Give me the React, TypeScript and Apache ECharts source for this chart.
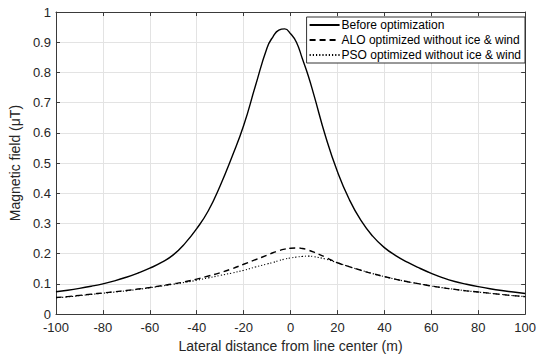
import React, { useEffect, useRef } from "react";
import * as echarts from "echarts";

const distance = [
  -100, -95, -90, -85, -80, -75, -70, -65, -60, -55, -50, -45, -40, -35, -30, -25, -20, -15, -10,
  -7.5, -5, -2.5, 0, 2.5, 5, 7.5,
  10, 15, 20, 25, 30, 35, 40, 45, 50, 55, 60, 65, 70, 75, 80, 85, 90, 95, 100,
];

const beforeOpt = [
  0.074, 0.079, 0.085, 0.092, 0.1, 0.11, 0.122, 0.136, 0.152, 0.171, 0.196, 0.234, 0.283, 0.343, 0.425, 0.52, 0.624, 0.755, 0.882,
  0.918, 0.94, 0.944, 0.928, 0.9, 0.846, 0.79,
  0.724, 0.586, 0.471, 0.38, 0.31, 0.258, 0.22, 0.193, 0.171, 0.152, 0.135, 0.12, 0.108, 0.099, 0.091, 0.084, 0.078, 0.073, 0.068,
];

const aloOpt = [
  0.055, 0.058, 0.062, 0.066, 0.07, 0.074, 0.078, 0.083, 0.088, 0.094, 0.1, 0.107, 0.116, 0.126, 0.137, 0.15, 0.165, 0.18, 0.195,
  0.203, 0.21, 0.215, 0.218, 0.219, 0.217, 0.212,
  0.205, 0.188, 0.17, 0.157, 0.145, 0.134, 0.124, 0.115, 0.107, 0.1, 0.093, 0.087, 0.082, 0.077, 0.073, 0.069, 0.065, 0.061, 0.058,
];

const psoOpt = [
  0.054, 0.057, 0.061, 0.065, 0.069, 0.073, 0.077, 0.082, 0.087, 0.093, 0.099, 0.105, 0.112, 0.12, 0.128, 0.136, 0.145, 0.156, 0.166,
  0.171, 0.177, 0.182, 0.186, 0.189, 0.191, 0.192,
  0.19, 0.182, 0.17, 0.157, 0.145, 0.134, 0.124, 0.115, 0.107, 0.1, 0.093, 0.087, 0.082, 0.077, 0.073, 0.069, 0.065, 0.061, 0.058,
];

const seriesNames = [
  "Before optimization",
  "ALO optimized without ice & wind",
  "PSO optimized without ice & wind",
];

const FONT = "'Liberation Sans', Arial, sans-serif";
const AXIS_COLOR = "#3a3a3a";
const TEXT_COLOR = "#262626";

export default function App() {
  const ref = useRef<HTMLDivElement>(null);

  useEffect(() => {
    if (!ref.current) return;
    const chart = echarts.init(ref.current, undefined, { renderer: "svg" });
    const pairs = (ys: number[]) => distance.map((x, i) => [x, ys[i]]);
    const tick = { show: true, inside: true, length: 4, lineStyle: { color: AXIS_COLOR } };
    const line = { show: true, onZero: false, lineStyle: { color: AXIS_COLOR, width: 1 } };
    chart.setOption({
      animation: false,
      backgroundColor: "#ffffff",
      textStyle: { fontFamily: FONT },
      grid: { left: 51, right: 12, top: 12, bottom: 43, containLabel: false },
      legend: {
        orient: "vertical",
        right: 14,
        top: 17,
        data: seriesNames,
        backgroundColor: "#ffffff",
        borderColor: "#333333",
        borderWidth: 1,
        borderRadius: 0,
        padding: [2, 4, 2, 2],
        itemGap: 3,
        itemWidth: 30,
        itemHeight: 12,
        itemStyle: { opacity: 0 },
        textStyle: { fontSize: 12, color: "#000000", fontFamily: FONT, padding: [0, 0, 0, -3] },
      },
      xAxis: [
        {
          type: "value",
          min: -100,
          max: 100,
          interval: 20,
          position: "bottom",
          name: "Lateral distance from line center (m)",
          nameLocation: "middle",
          nameGap: 24,
          nameTextStyle: { fontSize: 14, color: TEXT_COLOR, fontFamily: FONT },
          axisLine: line,
          axisTick: tick,
          axisLabel: { fontSize: 13, lineHeight: 13, color: TEXT_COLOR, margin: 7, fontFamily: FONT },
          splitLine: { show: true, lineStyle: { color: "#e3e3e3", width: 1 } },
        },
        {
          type: "value",
          min: -100,
          max: 100,
          interval: 20,
          position: "top",
          axisLine: line,
          axisTick: tick,
          axisLabel: { show: false },
          splitLine: { show: false },
        },
      ],
      yAxis: [
        {
          type: "value",
          min: 0,
          max: 1,
          interval: 0.1,
          position: "left",
          name: "Magnetic field (μT)",
          nameLocation: "middle",
          nameGap: 32,
          nameTextStyle: { fontSize: 14, color: TEXT_COLOR, fontFamily: FONT },
          axisLine: line,
          axisTick: tick,
          axisLabel: {
            fontSize: 13,
            lineHeight: 12,
            color: TEXT_COLOR,
            margin: 5,
            fontFamily: FONT,
            formatter: (v: number) => String(Math.round(v * 10) / 10),
          },
          splitLine: { show: true, lineStyle: { color: "#e3e3e3", width: 1 } },
        },
        {
          type: "value",
          min: 0,
          max: 1,
          interval: 0.1,
          position: "right",
          axisLine: line,
          axisTick: tick,
          axisLabel: { show: false },
          splitLine: { show: false },
        },
      ],
      series: [
        {
          name: seriesNames[0],
          type: "line",
          data: pairs(beforeOpt),
          smooth: 0.5,
          symbol: "none",
          lineStyle: { color: "#000000", width: 1.4, type: "solid" },
          itemStyle: { color: "#000000" },
          z: 3,
        },
        {
          name: seriesNames[1],
          type: "line",
          data: pairs(aloOpt),
          smooth: 0.5,
          symbol: "none",
          lineStyle: { color: "#000000", width: 1.4, type: [6, 4] },
          itemStyle: { color: "#000000" },
          z: 4,
        },
        {
          name: seriesNames[2],
          type: "line",
          data: pairs(psoOpt),
          smooth: 0.5,
          symbol: "none",
          lineStyle: { color: "#000000", width: 1.1, type: [1.2, 2] },
          itemStyle: { color: "#000000" },
          z: 5,
        },
      ],
    });
    return () => chart.dispose();
  }, []);

  return <div ref={ref} style={{ width: 539, height: 358, position: "fixed", left: 0, top: 0, background: "#fff" }} />;
}
